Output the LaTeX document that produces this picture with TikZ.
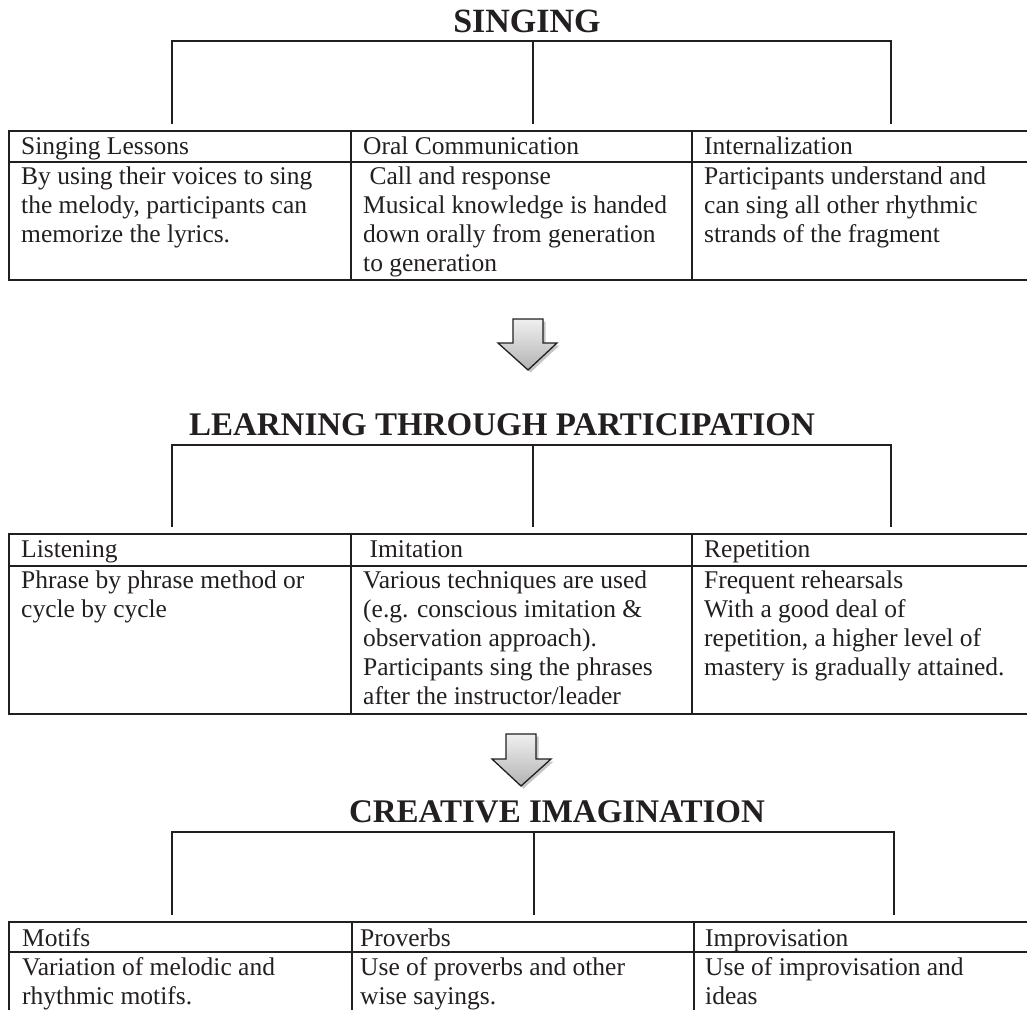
\documentclass[tikz,border=0pt]{standalone}
\usepackage{fontspec}
\setmainfont{Liberation Serif}
\usetikzlibrary{shadows}
\definecolor{ink}{HTML}{231F20}
\newcommand\bodyfont{\fontsize{25.5}{29}\selectfont}
\newcommand\headfont{\fontsize{33}{38}\selectfont\bfseries}
\tikzset{
  tbl/.style={line width=2.3pt, draw=ink},
  brk/.style={line width=1.4pt, draw=ink},
  hcell/.style={anchor=base west, inner sep=0pt, font=\bodyfont, text=ink},
  bcell/.style={anchor=north west, inner sep=0pt, align=left, font=\bodyfont, text=ink},
  stagetitle/.style={anchor=base, inner sep=0pt, font=\headfont, text=ink},
  downarrow/.style={draw=ink, line width=1.3pt, line join=miter,
    top color=gray!12, bottom color=gray!60,
    drop shadow={shadow xshift=2.5pt, shadow yshift=-2.5pt, opacity=0.45, fill=gray}}
}
\begin{document}
\begin{tikzpicture}[x=1pt, y=-1pt]
\useasboundingbox (0,0) rectangle (1027,1009);
\clip (0,0) rectangle (1027,1009);

% ---------------- Stage 1: Singing ----------------
\node[stagetitle, font=\fontsize{34}{38}\selectfont\bfseries] (t1) at (527,32) {SINGING};
\coordinate (b1l) at (172,41); \coordinate (b1m) at (533,41); \coordinate (b1r) at (891,41);
\coordinate (e1l) at (172,124); \coordinate (e1m) at (533,124); \coordinate (e1r) at (891,124);
\draw[brk] (e1l) -- (b1l) -- (b1r) -- (e1r);
\draw[brk] (b1m) -- (e1m);
% table
\draw[tbl] (1040,131) -- (9,131) -- (9,280) -- (1040,280);
\draw[tbl] (9,162) -- (1040,162);
\draw[tbl] (351,131) -- (351,280);
\draw[tbl] (692,131) -- (692,280);
\node[hcell] (h11) at (21,154) {Singing Lessons};
\node[hcell] (h12) at (363,154) {Oral Communication};
\node[hcell] (h13) at (704,154) {Internalization};
\node[bcell] (c11) at (21,163.7) {\strut By using their voices to sing\\the melody, participants can\\memorize the lyrics.};
\node[bcell] (c12) at (363,163.7) {\strut\ Call and response\\Musical knowledge is handed\\down orally from generation\\to generation};
\node[bcell] (c13) at (704,163.7) {\strut Participants understand and\\can sing all other rhythmic\\strands of the fragment};

% arrow 1
\path[downarrow] (513,319) -- (543,319) -- (543,343) -- (557,343) -- (528,370)
  -- (498,343) -- (513,343) -- cycle;

% ---------------- Stage 2: Learning through participation ----------------
\node[stagetitle] (t2) at (502,435) {LEARNING THROUGH PARTICIPATION};
\coordinate (b2l) at (172,445); \coordinate (b2m) at (533,445); \coordinate (b2r) at (891,445);
\coordinate (e2l) at (172,527); \coordinate (e2m) at (533,527); \coordinate (e2r) at (891,527);
\draw[brk] (e2l) -- (b2l) -- (b2r) -- (e2r);
\draw[brk] (b2m) -- (e2m);
\draw[tbl] (1040,534) -- (9,534) -- (9,714) -- (1040,714);
\draw[tbl] (9,566) -- (1040,566);
\draw[tbl] (351,534) -- (351,714);
\draw[tbl] (692,534) -- (692,714);
\node[hcell] (h21) at (21,557) {Listening};
\node[hcell] (h22) at (363,557) {\ Imitation};
\node[hcell] (h23) at (704,557) {Repetition};
\node[bcell] (c21) at (21,567.7) {\strut Phrase by phrase method or\\cycle by cycle};
\node[bcell] (c22) at (363,567.7) {\strut Various techniques are used\\(e.g. conscious imitation \&\\observation approach).\\Participants sing the phrases\\after the instructor/leader};
\node[bcell] (c23) at (704,567.7) {\strut Frequent rehearsals\\With a good deal of\\repetition, a higher level of\\mastery is gradually attained.};

% arrow 2
\path[downarrow] (506,734) -- (536,734) -- (536,759) -- (551,759) -- (521,786)
  -- (492,759) -- (506,759) -- cycle;

% ---------------- Stage 3: Creative imagination ----------------
\node[stagetitle] (t3) at (557,822) {CREATIVE IMAGINATION};
\coordinate (b3l) at (172,832); \coordinate (b3m) at (534,832); \coordinate (b3r) at (894,832);
\coordinate (e3l) at (172,915); \coordinate (e3m) at (534,915); \coordinate (e3r) at (894,915);
\draw[brk] (e3l) -- (b3l) -- (b3r) -- (e3r);
\draw[brk] (b3m) -- (e3m);
\draw[tbl] (1040,922) -- (9,922) -- (9,1030);
\draw[tbl] (9,952) -- (1040,952);
\draw[tbl] (352,922) -- (352,1030);
\draw[tbl] (694,922) -- (694,1030);
\node[hcell] (h31) at (22,946) {Motifs};
\node[hcell] (h32) at (360,946) {Proverbs};
\node[hcell] (h33) at (705,946) {Improvisation};
\node[bcell] (c31) at (22,954.7) {\strut Variation of melodic and\\rhythmic motifs.};
\node[bcell] (c32) at (360,954.7) {\strut Use of proverbs and other\\wise sayings.};
\node[bcell] (c33) at (705,954.7) {\strut Use of improvisation and\\ideas};
\end{tikzpicture}
\end{document}
